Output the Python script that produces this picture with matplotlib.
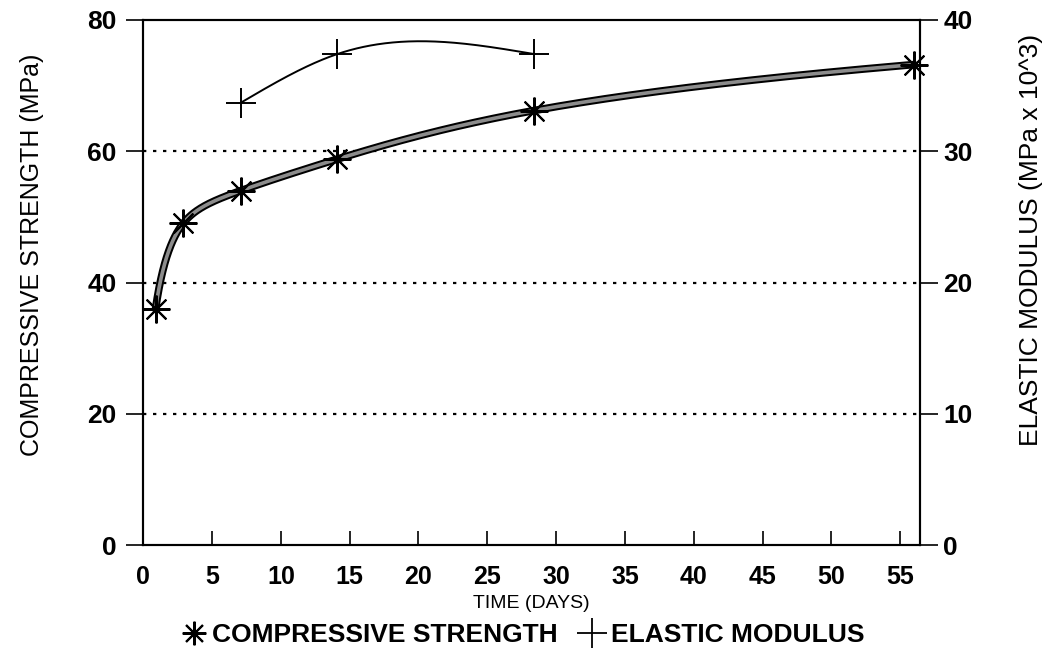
import matplotlib.pyplot as plt
import numpy as np
from matplotlib.lines import Line2D

dias_cs = [0.9, 2.9, 7.1, 14.1, 28.4, 56]
compressive_strength = [36, 49, 54, 58.8, 66.2, 73.2]

dias_em = [7.1, 14.1, 28.4]
elastic_modulus = [33.7, 37.4, 37.4]

x_ticks = list(range(0, 60, 5))
y_left_ticks = [0, 20, 40, 60, 80]
y_right_ticks = [0, 10, 20, 30, 40]


def spline_natural(x, y, usar_log=False, n=300):
    # curva suave passando pelos pontos (spline cubica natural)
    x = np.asarray(x, float)
    t = np.log(x) if usar_log else x
    y = np.asarray(y, float)
    k = len(t)
    h = np.diff(t)
    A = np.zeros((k, k))
    b = np.zeros(k)
    A[0, 0] = 1
    A[-1, -1] = 1
    for i in range(1, k - 1):
        A[i, i - 1] = h[i - 1]
        A[i, i] = 2 * (h[i - 1] + h[i])
        A[i, i + 1] = h[i]
        b[i] = 3 * ((y[i + 1] - y[i]) / h[i] - (y[i] - y[i - 1]) / h[i - 1])
    c = np.linalg.solve(A, b)
    ts = np.linspace(t[0], t[-1], n)
    idx = np.clip(np.searchsorted(t, ts) - 1, 0, k - 2)
    dt = ts - t[idx]
    hi = h[idx]
    bb = (y[idx + 1] - y[idx]) / hi - hi * (2 * c[idx] + c[idx + 1]) / 3
    dd = (c[idx + 1] - c[idx]) / (3 * hi)
    ys = y[idx] + bb * dt + c[idx] * dt ** 2 + dd * dt ** 3
    xs = np.exp(ts) if usar_log else ts
    return xs, ys


plt.rcParams['font.family'] = ['Liberation Sans', 'DejaVu Sans']

fig = plt.figure(figsize=(10.45, 6.64), dpi=100)
ax = fig.add_axes([0.137, 0.179, 0.743, 0.791])
ax2 = ax.twinx()

# curva da resistencia a compressao (traco grosso "oco")
xs, ys = spline_natural(dias_cs, compressive_strength, usar_log=True)
ax.plot(xs, ys, color='black', linewidth=5.5, solid_capstyle='round', zorder=3)
ax.plot(xs, ys, color='#8c8c8c', linewidth=2.6, zorder=4)
ax.plot(dias_cs, compressive_strength, linestyle='none', marker=(8, 2, 0),
        markersize=20, markeredgewidth=1.5, color='black', zorder=5, clip_on=False)

# curva do modulo de elasticidade
xe, ye = spline_natural(dias_em, elastic_modulus)
ax2.plot(xe, ye, color='black', linewidth=1.4, zorder=3)
ax2.plot(dias_em, elastic_modulus, linestyle='none', marker='+',
         markersize=22, markeredgewidth=1.4, color='black', zorder=5)

for yv in [20, 40, 60]:
    ax.axhline(yv, color='black', linestyle=(0, (1.5, 3)), linewidth=1.6, zorder=1)

ax.set_xlim(0, 56.4)
ax.set_ylim(0, 80)
ax2.set_ylim(0, 40)

ax.set_xticks(x_ticks)
ax.set_yticks(y_left_ticks)
ax2.set_yticks(y_right_ticks)

ax.tick_params(axis='x', direction='in', length=10, width=1.2, pad=14, labelsize=18)
ax.tick_params(axis='y', direction='out', length=12, width=1.2, pad=7, labelsize=19)
ax2.tick_params(axis='y', direction='out', length=13, width=1.2, pad=4, labelsize=19)
for lbl in ax.get_xticklabels() + ax.get_yticklabels() + ax2.get_yticklabels():
    lbl.set_fontweight('bold')

for a in (ax, ax2):
    for sp in a.spines.values():
        sp.set_linewidth(1.5)

ax.set_xlabel('TIME (DAYS)', fontsize=14)
ax.xaxis.set_label_coords(0.5, -0.095)
ax.set_ylabel('COMPRESSIVE STRENGTH (MPa)', fontsize=18)
ax.yaxis.set_label_coords(-0.128, 0.552)
ax2.set_ylabel('ELASTIC MODULUS (MPa x 10^3)', fontsize=19)
ax2.yaxis.set_label_coords(1.128, 0.581)

handles = [
    Line2D([], [], linestyle='none', marker=(8, 2, 0), markersize=17,
           markeredgewidth=1.5, color='black'),
    Line2D([], [], linestyle='none', marker='+', markersize=22,
           markeredgewidth=1.3, color='black'),
]
fig.legend(handles, ['COMPRESSIVE STRENGTH', 'ELASTIC MODULUS'], loc='center',
           bbox_to_anchor=(0.5, 0.043), ncol=2, frameon=False,
           prop={'weight': 'bold', 'size': 19}, handlelength=1.0,
           handletextpad=0.2, columnspacing=0.8)

fig.savefig('out.png', dpi=100)
